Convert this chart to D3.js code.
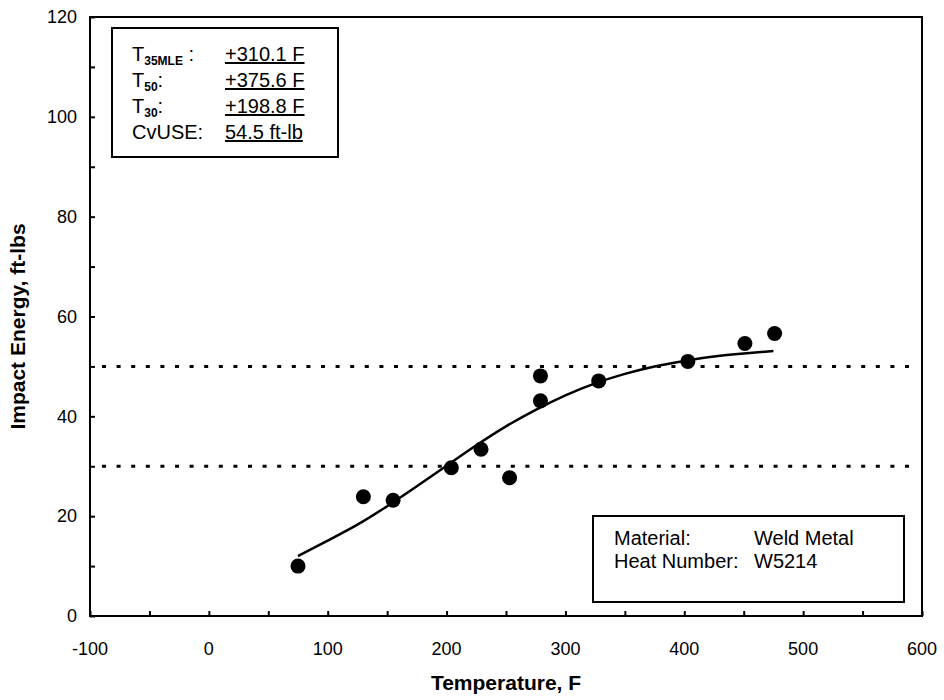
<!DOCTYPE html>
<html>
<head>
<meta charset="utf-8">
<script src="https://cdn.jsdelivr.net/npm/d3@7"></script>
<style>
  body { margin: 0; background: #fff; }
  svg { font-family: "Liberation Sans", Arial, Helvetica, sans-serif; }
</style>
</head>
<body>
<script>

// Charpy test points
var tempF  = [75, 130, 155, 204, 229, 253, 279, 279, 328, 403, 451, 476];
var energy = [10, 23.9, 23.2, 29.7, 33.4, 27.7, 48.1, 43.1, 47.1, 51.0, 54.6, 56.6];

// fitted curve
var curveT  = [75, 100, 125, 150, 175, 200, 225, 250, 275, 300, 325, 350, 375, 400, 425, 450, 475];
var curveCv = [12.0, 15.1, 18.3, 22.0, 26.0, 30.1, 34.2, 38.0, 41.3, 44.2, 46.6, 48.5, 50.0, 51.1, 52.0, 52.6, 53.1];

// dotted reference levels (T30 and T50)
var refLevels = [30, 50];

var xTicks = [-100, 0, 100, 200, 300, 400, 500, 600];
var yTicks = [0, 20, 40, 60, 80, 100, 120];

var statNames  = ["T", "T", "T", "CvUSE"];
var statSubs   = ["35MLE", "50", "30", ""];
var statColons = [" :", ":", ":", ":"];
var statValues = ["+310.1 F", "+375.6 F", "+198.8 F", "54.5 ft-lb"];

var infoLabels = ["Material:", "Heat Number:"];
var infoValues = ["Weld Metal", "W5214"];

var W = 944, H = 700;
var pLeft = 90, pRight = 922, pTop = 17, pBottom = 616;

var svg = d3.select("body").append("svg")
    .attr("width", W)
    .attr("height", H)

var x = d3.scaleLinear().domain([-100, 600]).range([pLeft, pRight]);
var y = d3.scaleLinear().domain([0, 120]).range([pBottom, pTop]);

// frame
svg.append("rect")
  .attr("x", pLeft).attr("y", pTop)
  .attr("width", pRight - pLeft).attr("height", pBottom - pTop)
  .attr("fill", "none").attr("stroke", "#000").attr("stroke-width", 2);

// ticks (inward, every 50 F / 10 ft-lb)
var xAxis = d3.axisTop(x).tickValues(d3.range(-100, 601, 50)).tickSize(5).tickFormat("");
svg.append("g").attr("transform", "translate(0," + pBottom + ")").call(xAxis)
  .call(function(g){ g.select(".domain").remove(); })
  .selectAll("line").attr("stroke-width", 2);

var yAxis = d3.axisRight(y).tickValues(d3.range(0, 121, 10)).tickSize(5).tickFormat("");
svg.append("g").attr("transform", "translate(" + pLeft + ",0)").call(yAxis)
  .call(function(g){ g.select(".domain").remove(); })
  .selectAll("line").attr("stroke-width", 2);

// tick labels
svg.selectAll(".xlab")
  .data(xTicks)
  .enter()
  .append("text")
  .attr("x", function(d){ return x(d); })
  .attr("y", 655)
  .attr("text-anchor", "middle")
  .style("font-size", "18px")
  .text(function(d){ return d; });

svg.selectAll(".ylab")
  .data(yTicks)
  .enter()
  .append("text")
  .attr("x", 77)
  .attr("y", function(d){ return y(d); })
  .attr("dy", "0.35em")
  .attr("text-anchor", "end")
  .style("font-size", "18px")
  .text(function(d){ return d; });

// axis titles
svg.append("text")
  .attr("x", (pLeft + pRight) / 2)
  .attr("y", 690)
  .attr("text-anchor", "middle")
  .style("font-size", "21px").style("font-weight", "bold")
  .text("Temperature, F");

svg.append("text")
  .attr("transform", "translate(25," + ((pTop + pBottom) / 2 + 10) + ") rotate(-90)")
  .attr("text-anchor", "middle")
  .style("font-size", "21px").style("font-weight", "bold")
  .text("Impact Energy, ft-lbs");

// dotted levels
svg.selectAll(".lvl")
  .data(refLevels)
  .enter()
  .append("line")
  .attr("x1", pLeft + 12).attr("x2", pRight - 4)
  .attr("y1", function(d){ return y(d); })
  .attr("y2", function(d){ return y(d); })
  .attr("stroke", "#000")
  .attr("stroke-width", 3)
  .attr("stroke-dasharray", "4 10.6");

// fitted curve
var line = d3.line()
  .x(function(d){ return x(d[0]); })
  .y(function(d){ return y(d[1]); })
  .curve(d3.curveNatural);

svg.append("path")
  .datum(d3.zip(curveT, curveCv))
  .attr("d", line)
  .attr("fill", "none")
  .attr("stroke", "#000")
  .attr("stroke-width", 2.5);

// data points
svg.selectAll(".pt")
  .data(d3.zip(tempF, energy))
  .enter()
  .append("circle")
  .attr("cx", function(d){ return x(d[0]); })
  .attr("cy", function(d){ return y(d[1]); })
  .attr("r", 7.5)
  .style("fill", "#000");

// stats box
svg.append("rect")
  .attr("x", 112).attr("y", 28).attr("width", 226).attr("height", 129)
  .attr("fill", "#fff").attr("stroke", "#000").attr("stroke-width", 2);

statNames.forEach(function(n, i){
  var t = svg.append("text")
    .attr("x", 132)
    .attr("y", 61 + i * 26)
    .style("font-size", "20px");
  t.append("tspan").text(n);
  if (statSubs[i] !== "") {
    t.append("tspan").attr("dy", 4).style("font-size", "12px").style("font-weight", "bold").text(statSubs[i]);
    t.append("tspan").attr("dy", -4).text(statColons[i]);
  } else {
    t.append("tspan").text(statColons[i]);
  }

  svg.append("text")
    .attr("x", 225)
    .attr("y", 61 + i * 26)
    .style("font-size", "20px")
    .style("text-decoration", "underline")
    .text(statValues[i]);
});

// material box
svg.append("rect")
  .attr("x", 593).attr("y", 516).attr("width", 311).attr("height", 86)
  .attr("fill", "#fff").attr("stroke", "#000").attr("stroke-width", 2);

infoLabels.forEach(function(l, i){
  svg.append("text")
    .attr("x", 614).attr("y", 545 + i * 23)
    .style("font-size", "20px")
    .text(l);
  svg.append("text")
    .attr("x", 754).attr("y", 545 + i * 23)
    .style("font-size", "20px")
    .text(infoValues[i]);
});

</script>
</body>
</html>
